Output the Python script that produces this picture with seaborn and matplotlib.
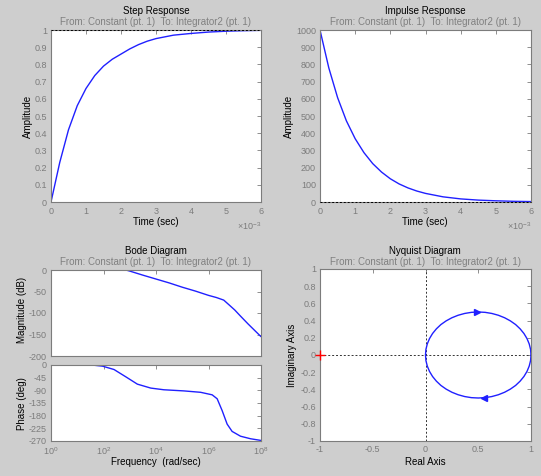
import numpy as np
import seaborn as sns
import matplotlib
matplotlib.use('Agg')
import matplotlib.pyplot as plt
from matplotlib.ticker import ScalarFormatter, NullLocator

# Step / impulse response samples (time in ms)
time_ms = [0, 0.25, 0.5, 0.75, 1, 1.25, 1.5, 1.75, 2, 2.25, 2.5, 2.75, 3,
           3.5, 4, 4.5, 5, 5.5, 6]
step_amp = [0, 0.23, 0.42, 0.56, 0.66, 0.735, 0.79, 0.83, 0.86, 0.89, 0.915,
            0.935, 0.95, 0.97, 0.98, 0.988, 0.993, 0.996, 0.998]
impulse_amp = [1000, 780, 607, 472, 368, 287, 223, 174, 135, 105, 82, 64, 50,
               30, 18, 11, 7, 4, 2.5]

# Bode diagram (log10 of frequency in rad/sec)
mag_logw = [0, 1, 2, 2.85, 3, 3.5, 4, 4.5, 5, 5.5, 6, 6.3, 6.58, 6.8, 7,
            7.2, 7.5, 7.8, 8]
mag_db = [0, 0, 0, 0, -2.5, -12, -21, -30, -40, -49, -59, -64, -70, -82, -93,
          -106, -125, -143, -155]
phase_logw = [0, 1, 1.65, 1.96, 2.4, 2.85, 3.29, 3.8, 4.3, 5.06, 5.7, 6.14,
              6.33, 6.52, 6.71, 6.9, 7.22, 7.6, 8]
phase_deg = [0, 0, -1, -4, -16, -42, -68, -82, -88, -92, -97, -106, -120,
             -162, -210, -236, -253, -262, -268]

# Nyquist diagram (positive frequencies, lower half of the circle)
nyq_re = [1.0, 0.996, 0.983, 0.962, 0.933, 0.897, 0.854, 0.804, 0.75, 0.691,
          0.629, 0.565, 0.5, 0.435, 0.371, 0.309, 0.25, 0.196, 0.146, 0.103,
          0.067, 0.038, 0.017, 0.004, 0.0]
nyq_im = [0.0, -0.065, -0.129, -0.191, -0.25, -0.304, -0.354, -0.397, -0.433,
          -0.462, -0.483, -0.496, -0.5, -0.496, -0.483, -0.462, -0.433,
          -0.397, -0.354, -0.304, -0.25, -0.191, -0.129, -0.065, 0.0]

subtitle = 'From: Constant (pt. 1)  To: Integrator2 (pt. 1)'
bg = '#cecece'
grey = '#7c7c7c'
line_c = '#2020ff'

sns.set_style('white')
plt.rcParams['font.family'] = ['Liberation Sans', 'DejaVu Sans']
plt.rcParams['axes.unicode_minus'] = False
plt.rcParams['mathtext.fontset'] = 'custom'
plt.rcParams['mathtext.rm'] = 'Liberation Sans'
plt.rcParams['mathtext.it'] = 'Liberation Sans'
plt.rcParams['mathtext.default'] = 'regular'

fig = plt.figure(figsize=(5.41, 4.76), dpi=100, facecolor=bg)
W, H = 541, 476


def make_ax(l, t, r, b, **kw):
    ax = fig.add_axes([l / W, 1 - b / H, (r - l) / W, (b - t) / H], **kw)
    ax.set_facecolor('white')
    for s in ax.spines.values():
        s.set_color(grey)
        s.set_linewidth(0.8)
    ax.tick_params(direction='in', length=3, width=0.6, colors=grey,
                   labelsize=6.5, top=True, right=True, pad=3)
    return ax


def heading(x, y, title):
    fig.text(x / W, 1 - y / H, title, ha='center', va='center', fontsize=7,
             color='black')
    fig.text(x / W, 1 - (y + 11) / H, subtitle, ha='center', va='center',
             fontsize=7, color='#808080')


def label(x, y, text, rot=0):
    fig.text(x / W, 1 - y / H, text, ha='center', va='center', fontsize=7,
             color='black', rotation=rot)


def sci_axis(ax):
    fmt = ScalarFormatter(useMathText=True)
    fmt.set_powerlimits((-2, 2))
    ax.xaxis.set_major_formatter(fmt)
    ax.xaxis.get_offset_text().set_fontsize(6.5)
    ax.xaxis.get_offset_text().set_color(grey)


t_sec = np.array(time_ms) * 1e-3

# Step response
ax1 = make_ax(51, 30, 261, 202)
sns.lineplot(x=t_sec, y=step_amp, ax=ax1, color=line_c, lw=1, estimator=None)
ax1.axhline(1, color='black', ls=(0, (2, 2)), lw=0.7, zorder=3, clip_on=False)
ax1.set_xlim(0, 0.006)
ax1.set_ylim(0, 1)
ax1.set_yticks(np.arange(0, 1.01, 0.1))
ax1.set_yticklabels(['0', '0.1', '0.2', '0.3', '0.4', '0.5', '0.6', '0.7',
                     '0.8', '0.9', '1'])
sci_axis(ax1)
heading(156, 11, 'Step Response')
label(156, 222, 'Time (sec)')
label(28, 116, 'Amplitude', 90)

# Impulse response
ax2 = make_ax(320, 30, 531, 202)
sns.lineplot(x=np.r_[0, t_sec], y=[0] + impulse_amp, ax=ax2, color=line_c,
             lw=1, estimator=None, sort=False)
ax2.axhline(0, color='black', ls=(0, (2, 2)), lw=0.7, zorder=3, clip_on=False)
ax2.set_xlim(0, 0.006)
ax2.set_ylim(0, 1000)
ax2.set_yticks(np.arange(0, 1001, 100))
sci_axis(ax2)
heading(425, 11, 'Impulse Response')
label(425, 222, 'Time (sec)')
label(289, 116, 'Amplitude', 90)

# Bode diagram
ax3 = make_ax(51, 270, 261, 356)
ax4 = make_ax(51, 365, 261, 441, sharex=ax3)
sns.lineplot(x=10.0 ** np.array(mag_logw), y=mag_db, ax=ax3, color=line_c,
             lw=1, estimator=None)
sns.lineplot(x=10.0 ** np.array(phase_logw), y=phase_deg, ax=ax4,
             color=line_c, lw=1, estimator=None)
ax3.set_xscale('log')
ax3.set_xlim(1, 1e8)
ax3.set_xticks([1, 1e2, 1e4, 1e6, 1e8])
ax3.xaxis.set_minor_locator(NullLocator())
ax4.xaxis.set_minor_locator(NullLocator())
ax3.set_ylim(-200, 0)
ax3.set_yticks([0, -50, -100, -150, -200])
ax3.tick_params(labelbottom=False)
ax4.set_ylim(-270, 0)
ax4.set_yticks([0, -45, -90, -135, -180, -225, -270])
heading(156, 251, 'Bode Diagram')
label(156, 462, 'Frequency  (rad/sec)')
label(22, 310, 'Magnitude (dB)', 90)
label(22, 404, 'Phase (deg)', 90)

# Nyquist diagram
ax5 = make_ax(320, 269, 531, 441)
ax5.axhline(0, color='#333333', ls=(0, (2, 2)), lw=0.7)
ax5.axvline(0, color='#333333', ls=(0, (2, 2)), lw=0.7)
sns.lineplot(x=nyq_re, y=nyq_im, ax=ax5, color=line_c, lw=1, estimator=None,
             sort=False)
sns.lineplot(x=nyq_re, y=-np.array(nyq_im), ax=ax5, color=line_c, lw=1,
             estimator=None, sort=False)
ax5.plot(nyq_re[12] - 0.01, -nyq_im[12], marker='>', color=line_c, ms=4.5)
ax5.plot(nyq_re[11] - 0.01, nyq_im[11], marker='<', color=line_c, ms=4.5)
ax5.plot(-1, 0, marker='+', color='red', ms=7, mew=1, clip_on=False, zorder=4)
ax5.set_xlim(-1, 1)
ax5.set_ylim(-1, 1)
ax5.set_xticks([-1, -0.5, 0, 0.5, 1])
ax5.set_xticklabels(['-1', '-0.5', '0', '0.5', '1'])
ax5.set_yticks(np.round(np.arange(-1, 1.01, 0.2), 1))
ax5.set_yticklabels(['-1', '-0.8', '-0.6', '-0.4', '-0.2', '0', '0.2', '0.4',
                     '0.6', '0.8', '1'])
heading(425, 251, 'Nyquist Diagram')
label(425, 462, 'Real Axis')
label(292, 355, 'Imaginary Axis', 90)

for ax in (ax1, ax2, ax3, ax4, ax5):
    ax.set_xlabel('')
    ax.set_ylabel('')

fig.savefig('out.png', dpi=100, facecolor=bg)
